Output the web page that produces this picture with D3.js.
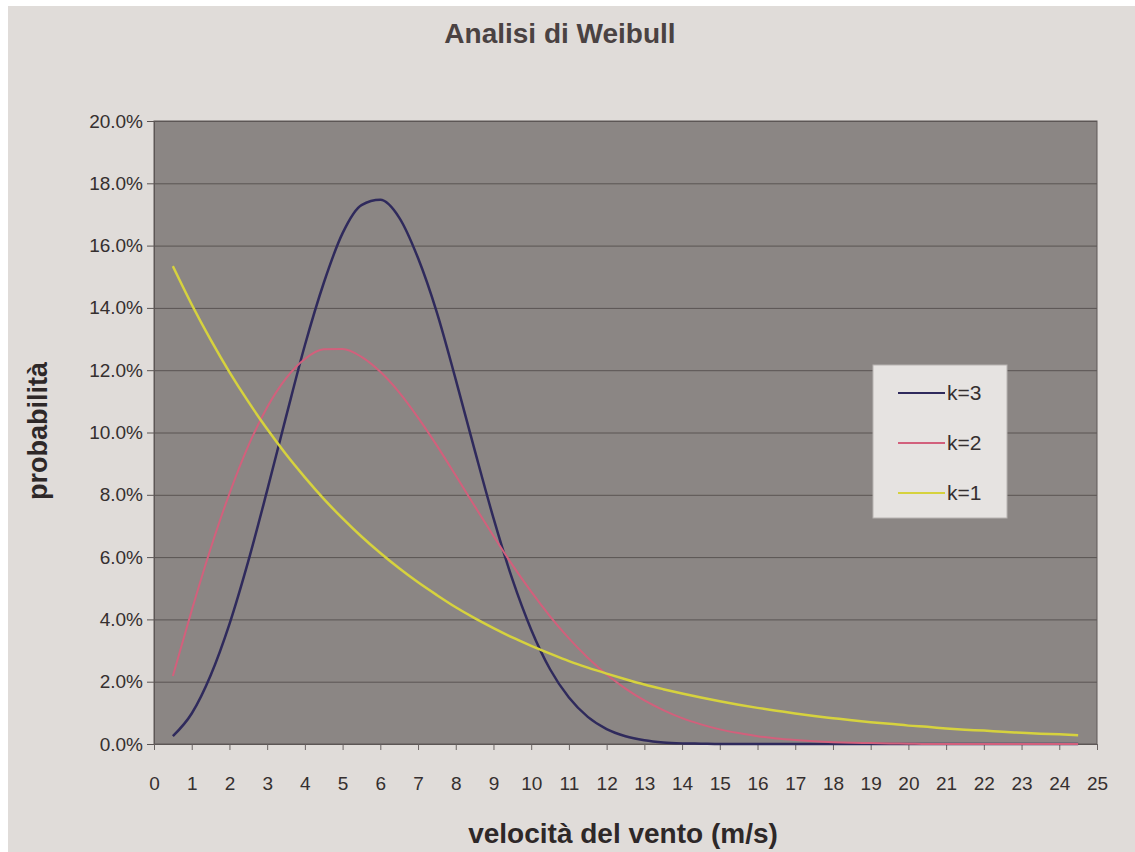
<!DOCTYPE html>
<html>
<head>
<meta charset="utf-8">
<script src="https://cdn.jsdelivr.net/npm/d3@7"></script>
<style>
  body { margin: 0; background: #ffffff; }
  svg { display: block; }
</style>
</head>
<body>
<div id="chart"></div>
<script>
// wind speed (m/s) sampled every half metre
var speeds = [0.5, 1, 1.5, 2, 2.5, 3, 3.5, 4, 4.5, 5, 5.5, 6, 6.5, 7, 7.5, 8, 8.5, 9, 9.5, 10,
  10.5, 11, 11.5, 12, 12.5, 13, 13.5, 14, 14.5, 15, 15.5, 16, 16.5, 17, 17.5, 18, 18.5, 19, 19.5, 20,
  20.5, 21, 21.5, 22, 22.5, 23, 23.5, 24, 24.5];

// probability (%)
var k3 = [0.25, 0.98, 2.2, 3.85, 5.87, 8.14, 10.5, 12.8, 14.8, 16.4, 17.3, 17.47, 16.9, 15.6, 13.85, 11.7, 9.44, 7.25, 5.29, 3.67,
  2.4, 1.49, 0.87, 0.48, 0.25, 0.12, 0.05, 0.02, 0.01, 0, 0, 0, 0, 0, 0, 0, 0, 0, 0, 0,
  0, 0, 0, 0, 0, 0, 0, 0, 0];
var k2 = [2.18, 4.29, 6.27, 8.04, 9.57, 10.81, 11.74, 12.36, 12.67, 12.68, 12.43, 11.95, 11.29, 10.48, 9.58, 8.62, 7.64, 6.68, 5.75, 4.89,
  4.1, 3.39, 2.77, 2.23, 1.78, 1.4, 1.09, 0.83, 0.63, 0.47, 0.35, 0.25, 0.18, 0.13, 0.09, 0.06, 0.04, 0.03, 0.02, 0.01,
  0, 0, 0, 0, 0, 0, 0, 0, 0];
var k1 = [15.34, 14.11, 12.98, 11.94, 10.99, 10.11, 9.3, 8.56, 7.87, 7.24, 6.66, 6.13, 5.64, 5.19, 4.78, 4.39, 4.04, 3.72, 3.42, 3.15,
  2.9, 2.66, 2.45, 2.26, 2.08, 1.91, 1.76, 1.62, 1.49, 1.37, 1.26, 1.16, 1.07, 0.98, 0.9, 0.83, 0.76, 0.7, 0.65, 0.59,
  0.55, 0.5, 0.46, 0.43, 0.39, 0.36, 0.33, 0.31, 0.28];

var seriesNames = ["k=3", "k=2", "k=1"];
var seriesColors = ["#2f2a5c", "#d2607c", "#d6d23e"];
var xTicks = d3.range(0, 26);
var yTicks = d3.range(0, 21, 2);

var width = 1135, height = 852;
var plot = {left: 154, right: 1097, top: 121, bottom: 744};
var font = "Liberation Sans, Arial, sans-serif";

var svg = d3.select("#chart").append("svg")
    .attr("width", width)
    .attr("height", height);

// paper
svg.append("rect")
    .attr("x", 8).attr("y", 6)
    .attr("width", width - 8).attr("height", height - 6)
    .attr("fill", "#e0dcd9");

var x = d3.scaleLinear().domain([0, 25]).range([plot.left, plot.right]);
var y = d3.scaleLinear().domain([0, 20]).range([plot.bottom, plot.top]);

svg.append("rect")
    .attr("x", plot.left).attr("y", plot.top)
    .attr("width", plot.right - plot.left).attr("height", plot.bottom - plot.top)
    .attr("fill", "#8b8684");

// gridlines
svg.append("g")
    .attr("transform", "translate(" + plot.left + ",0)")
    .call(d3.axisLeft(y).tickValues(yTicks).tickSize(-(plot.right - plot.left)).tickFormat(""))
    .call(function(g) {
      g.select(".domain").remove();
      g.selectAll("line").attr("stroke", "#5a5453").attr("stroke-width", 1);
    });

// y axis
svg.append("g")
    .attr("transform", "translate(" + plot.left + ",0)")
    .call(d3.axisLeft(y).tickValues(yTicks).tickSize(7).tickPadding(4)
      .tickFormat(function(d) { return d.toFixed(1) + "%"; }))
    .call(function(g) {
      g.select(".domain").attr("stroke", "#5a5453");
      g.selectAll("line").attr("stroke", "#5a5453");
      g.selectAll("text")
        .attr("fill", "#352f2f")
        .style("font-family", font)
        .style("font-size", "19px");
    });

// x axis
svg.append("g")
    .attr("transform", "translate(0," + plot.bottom + ")")
    .call(d3.axisBottom(x).tickValues(xTicks).tickSize(6).tickPadding(27).tickFormat(d3.format("d")))
    .call(function(g) {
      g.select(".domain").attr("stroke", "#5a5453");
      g.selectAll("line").attr("stroke", "#6a6463");
      g.selectAll("text")
        .attr("fill", "#352f2f")
        .style("font-family", font)
        .style("font-size", "19px");
    });

svg.append("rect")
    .attr("x", plot.left).attr("y", plot.top)
    .attr("width", plot.right - plot.left).attr("height", plot.bottom - plot.top)
    .attr("fill", "none")
    .attr("stroke", "#5f5958");

// curves
var line = d3.line()
    .x(function(d) { return x(d[0]); })
    .y(function(d) { return y(d[1]); })
    .curve(d3.curveMonotoneX);

[k3, k2, k1].forEach(function(vals, i) {
  svg.append("path")
      .datum(d3.zip(speeds, vals))
      .attr("fill", "none")
      .attr("stroke", seriesColors[i])
      .attr("stroke-width", i == 1 ? 2 : 2.5)
      .attr("d", line);
});

// legend
var legend = svg.append("g").attr("transform", "translate(873,365)");
legend.append("rect")
    .attr("width", 134).attr("height", 153)
    .attr("fill", "#e6e3e1")
    .attr("stroke", "#b8b3b1");
seriesNames.forEach(function(name, i) {
  var ly = 28 + i * 50;
  legend.append("line")
      .attr("x1", 25).attr("x2", 72)
      .attr("y1", ly).attr("y2", ly)
      .attr("stroke", seriesColors[i])
      .attr("stroke-width", 2);
  legend.append("text")
      .attr("x", 74).attr("y", ly + 7)
      .attr("fill", "#352f2f")
      .style("font-family", font)
      .style("font-size", "21px")
      .text(name);
});

// titles
svg.append("text")
    .attr("x", 560).attr("y", 43)
    .attr("text-anchor", "middle")
    .attr("fill", "#4a4242")
    .style("font-family", font)
    .style("font-weight", "bold")
    .style("font-size", "28px")
    .text("Analisi di Weibull");

svg.append("text")
    .attr("transform", "translate(47,431) rotate(-90)")
    .attr("text-anchor", "middle")
    .attr("fill", "#2e2828")
    .style("font-family", font)
    .style("font-weight", "bold")
    .style("font-size", "27px")
    .text("probabilità");

svg.append("text")
    .attr("x", 623).attr("y", 843)
    .attr("text-anchor", "middle")
    .attr("fill", "#2e2828")
    .style("font-family", font)
    .style("font-weight", "bold")
    .style("font-size", "28px")
    .text("velocità del vento (m/s)");
</script>
</body>
</html>
